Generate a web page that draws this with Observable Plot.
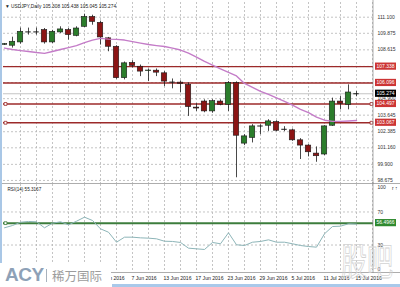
<!DOCTYPE html>
<html><head><meta charset="utf-8">
<script src="https://cdn.jsdelivr.net/npm/d3@7"></script>
<script src="https://cdn.jsdelivr.net/npm/@observablehq/plot@0.6"></script>
<style>
html,body{margin:0;padding:0;background:#fff;}
#wrap{position:relative;width:400px;height:287px;overflow:hidden;font-family:"Liberation Sans",Arial,sans-serif;background:#fff;}
#wrap svg{position:absolute;left:0;overflow:visible;}
.ov{position:absolute;white-space:nowrap;}
</style></head><body><div id="wrap"></div>
<script>
const symbol = "USDJPY,Daily";
const dates = ["16 May 2016","17 May 2016","18 May 2016","19 May 2016","20 May 2016","23 May 2016","24 May 2016","25 May 2016","26 May 2016","27 May 2016","30 May 2016","31 May 2016","1 Jun 2016","2 Jun 2016","3 Jun 2016","6 Jun 2016","7 Jun 2016","8 Jun 2016","9 Jun 2016","10 Jun 2016","13 Jun 2016","14 Jun 2016","15 Jun 2016","16 Jun 2016","17 Jun 2016","20 Jun 2016","21 Jun 2016","22 Jun 2016","23 Jun 2016","24 Jun 2016","27 Jun 2016","28 Jun 2016","29 Jun 2016","30 Jun 2016","1 Jul 2016","4 Jul 2016","5 Jul 2016","6 Jul 2016","7 Jul 2016","8 Jul 2016","11 Jul 2016","12 Jul 2016","13 Jul 2016","14 Jul 2016","15 Jul 2016"];
const open  = [109.00,108.93,109.18,109.96,109.99,110.12,109.18,109.94,110.12,109.68,110.37,111.12,110.67,109.49,108.85,106.46,107.62,107.33,107.00,107.03,106.83,106.15,106.12,105.95,104.22,104.68,103.93,104.68,104.43,106.08,101.48,101.91,102.79,102.84,103.12,102.59,102.49,101.73,101.33,100.72,100.65,102.84,104.68,104.43,105.308];
const high  = [109.10,109.58,110.27,110.27,110.27,110.24,110.10,110.37,110.24,110.37,111.33,111.25,110.80,109.56,108.93,107.69,107.79,107.46,107.16,107.16,106.96,106.40,106.25,106.10,104.51,104.81,104.81,104.81,106.20,106.18,102.16,102.92,102.92,103.30,103.22,102.77,102.59,101.86,101.40,101.23,102.84,104.94,105.06,105.95,105.438];
const low   = [108.95,108.75,109.05,109.74,109.74,109.05,109.10,109.87,109.36,109.61,110.32,110.49,108.98,108.47,106.38,106.33,107.24,106.58,106.20,106.58,105.82,105.65,105.34,103.55,103.93,103.83,103.79,104.36,103.93,98.88,101.33,101.53,102.16,102.41,102.39,102.39,101.65,100.27,100.47,100.06,100.57,102.79,104.05,104.05,105.045];
const close = [109.05,109.23,109.99,109.98,109.98,109.18,109.99,110.17,109.74,110.24,111.12,110.74,109.56,108.85,106.46,107.59,107.39,106.96,107.04,106.88,106.20,106.16,106.02,104.26,104.15,103.93,104.71,104.43,106.08,102.08,102.03,102.79,102.82,103.17,102.46,102.57,101.73,101.33,100.82,100.52,102.79,104.68,104.51,105.37,105.274];
const ma = [108.75,108.64,108.56,108.49,108.41,108.35,108.49,108.64,108.79,108.94,109.17,109.36,109.49,109.43,109.41,109.36,109.24,109.13,109.02,108.94,108.87,108.75,108.60,108.37,108.07,107.73,107.46,107.16,106.90,106.63,106.06,105.76,105.46,105.23,104.96,104.70,104.40,104.09,103.83,103.49,103.26,103.17,103.17,103.20,103.24];
const rsi = [50.85,53.6,57.6,58.5,58.1,50.85,56.4,58.1,54.5,58.8,63.7,59.7,49.6,45.5,33.4,39.5,39.5,38.7,38.3,37.5,34.6,34.3,33.1,26.2,25.4,24.6,33.1,31.5,44.8,30.3,29.4,33.4,34.3,36.3,33.4,33.4,31.5,29.4,28.2,27.4,43.6,52.4,52.8,55.7,55.3167];
const priceTicks = [111.100,109.875,108.615,107.355,106.130,104.900,103.645,102.385,101.160,99.900,98.675];
const priceTickShown = [111.100,109.875,108.615,104.900,103.645,102.385,101.160,99.900,98.675];
const redLevels = [107.338,106.096,104.497,103.067];
const markedLevels = [104.497,103.067];
const rsiLevel = 56.4966;
const rsiTicks = [100,70,30,0];
const rsiDashed = [70,30];
const rsiLabel = "RSI(14) 55.3167";
const dateLabelDates = ["1 Jun 2016","7 Jun 2016","13 Jun 2016","17 Jun 2016","23 Jun 2016","29 Jun 2016","5 Jul 2016","11 Jul 2016","15 Jul 2016"];

const wrap = document.getElementById("wrap");
const n = dates.length;
const bars = dates.map((d,i)=>({i, d, o:open[i], h:high[i], l:low[i], c:close[i], m:ma[i], r:rsi[i]}));
const xDomain = [-0.125, 46.125];
const gridX = d3.range(2, 47, 2);
const dash = {stroke:"#b5b5b5", strokeDasharray:"2,2", strokeWidth:0.8};
const hw = 0.34;
const isDoji = d => Math.abs(d.o - d.c) < 0.04;
const bid = close[n-1];
const FONT = "Liberation Sans, Arial, sans-serif";

const main = Plot.plot({
  width:400, height:184, marginLeft:3, marginRight:27, marginTop:2, marginBottom:1,
  x:{domain:xDomain, axis:null},
  y:{domain:[98.444,112.219], axis:null},
  style:{background:"transparent", fontFamily:FONT},
  marks:[
    Plot.ruleX(gridX, dash),
    Plot.ruleY(priceTicks, dash),
    Plot.ruleY([bid], {stroke:"#c4c4c4", strokeWidth:1}),
    Plot.ruleY(redLevels, {stroke:"#9c2a2a", strokeWidth:1.4}),
    Plot.ruleX(bars, {x:"i", y1:"l", y2:"h", stroke:"#1a1a1a", strokeWidth:0.8}),
    Plot.rect(bars.filter(d=>!isDoji(d)), {x1:d=>d.i-hw, x2:d=>d.i+hw, y1:"o", y2:"c",
      fill:d=>d.c>d.o?"#2b7d2b":"#8b1414", stroke:"#1a1a1a", strokeWidth:0.6}),
    Plot.ruleY(bars.filter(isDoji), {y:"c", x1:d=>d.i-hw, x2:d=>d.i+hw, stroke:"#1a1a1a", strokeWidth:1}),
    Plot.line(bars, {x:"i", y:"m", stroke:"#c47cc8", strokeWidth:1.4}),
    Plot.dot(markedLevels, {y:d=>d, frameAnchor:"left", dx:2, symbol:"square", r:1.6, stroke:"#9c2a2a", fill:"#fff", strokeWidth:0.8}),
    Plot.dot(markedLevels, {y:d=>d, frameAnchor:"right", dx:-2, symbol:"square", r:1.6, stroke:"#9c2a2a", fill:"#fff", strokeWidth:0.8}),
    Plot.axisY({anchor:"right", ticks:priceTickShown, tickFormat:d=>d.toFixed(3), tickSize:0, tickPadding:4, fontSize:5, fill:"#333"})
  ]
});
main.style.top = "0px";
wrap.appendChild(main);

const rsiPlot = Plot.plot({
  width:400, height:104, marginLeft:3, marginRight:27, marginTop:1, marginBottom:15,
  x:{domain:xDomain, axis:null},
  y:{domain:[-3.27,103.27], axis:null},
  style:{background:"transparent", fontFamily:FONT},
  marks:[
    Plot.ruleX(gridX, dash),
    Plot.ruleY(rsiDashed, dash),
    Plot.ruleY([rsiLevel], {stroke:"#3c7d3c", strokeWidth:2}),
    Plot.dot([rsiLevel], {y:d=>d, frameAnchor:"left", dx:2, symbol:"square", r:1.6, stroke:"#3c7d3c", fill:"#fff", strokeWidth:0.8}),
    Plot.line(bars, {x:"i", y:"r", stroke:"#8db5b8", strokeWidth:1}),
    Plot.axisY({anchor:"right", ticks:rsiTicks, tickFormat:d=>String(d), tickSize:0, tickPadding:4, fontSize:5, fill:"#333"}),
    Plot.text(bars.filter(d=>dateLabelDates.includes(d.d)), {x:"i", text:"d", frameAnchor:"bottom", textAnchor:"start", dy:7, dx:-1, fontSize:5.1, fill:"#222"}),
    Plot.text([rsiLabel], {frameAnchor:"top-left", text:d=>d, textAnchor:"start", dx:4, dy:3, fontSize:4.6, fill:"#222"})
  ]
});
rsiPlot.style.top = "183px";
wrap.appendChild(rsiPlot);

// axis lines and value boxes on the right gutter
function gutter(svg, plotObj, boxes){
  const sx = plotObj.scale("x"), sy = plotObj.scale("y");
  const xr = sx.range[1], yb = sy.range[0], yt = sy.range[1];
  const g = d3.select(svg).append("g").attr("text-anchor","start");
  g.append("line").attr("x1",xr).attr("x2",xr).attr("y1",yt-2).attr("y2",yb+1).attr("stroke","#8a8a8a").attr("stroke-width",0.7);
  g.append("line").attr("x1",0).attr("x2",400).attr("y1",yb+0.5).attr("y2",yb+0.5).attr("stroke","#8a8a8a").attr("stroke-width",0.7);
  for (const b of boxes){
    const y = sy.apply(b.v);
    g.append("rect").attr("x",xr+2).attr("y",y-3.6).attr("width",21).attr("height",7.2).attr("fill",b.fill);
    g.append("text").attr("x",xr+3.5).attr("y",y).attr("dy","0.35em").attr("fill","#fff").attr("text-anchor","start")
      .attr("font-size",5).attr("font-family",FONT).text(b.t);
  }
}
gutter(main, main, [
  ...redLevels.map(v=>({v, t:v.toFixed(3), fill:"#cc3535"})),
  {v:bid, t:bid.toFixed(3), fill:"#000"}
]);
gutter(rsiPlot, rsiPlot, [{v:rsiLevel, t:rsiLevel.toFixed(4), fill:"#2f8a2f"}]);

// header
const hdr = document.createElement("div");
hdr.className = "ov";
hdr.style.cssText = "left:5px;top:4px;font-size:4.8px;color:#222;";
hdr.textContent = "\u25BC " + symbol + " " + [open[n-1],high[n-1],low[n-1],close[n-1]].map(v=>v.toFixed(3)).join(" ");
wrap.appendChild(hdr);

// left edge strip, bottom bar
const left = document.createElement("div");
left.className="ov"; left.style.cssText="left:0;top:0;width:2px;height:264px;background:#a9c7e6;";
wrap.appendChild(left);
const bottom = document.createElement("div");
bottom.className="ov"; bottom.style.cssText="left:112px;top:284px;width:288px;height:3px;background:#a9c9ea;";
wrap.appendChild(bottom);

// watermark
const wm = document.createElement("div");
wm.className="ov";
wm.style.cssText="left:341px;top:240px;font-size:26px;line-height:1;color:transparent;-webkit-text-stroke:0.6px #d2d2d2;font-family:'Noto Sans CJK SC';transform:scaleY(1.45);transform-origin:top left;";
wm.textContent="股吧";
wrap.appendChild(wm);

// logo
const logo = document.createElement("div");
logo.className="ov";
logo.style.cssText="left:0;top:263px;width:111px;height:24px;background:#fff;";
logo.innerHTML = '<span style="position:absolute;left:5px;top:1px;font-size:19px;font-weight:bold;color:#8ea1b7;font-family:\'Liberation Sans\',Arial;letter-spacing:-0.5px;">ACY</span>'
 + '<span style="position:absolute;left:46px;top:6px;width:1px;height:13px;background:#a8b2bd;"></span>'
 + '<span style="position:absolute;left:52px;top:3px;font-size:12.5px;color:#9c9c9c;font-family:\'Noto Sans CJK SC\';">稀万国际</span>';
wrap.appendChild(logo);
</script></body></html>
